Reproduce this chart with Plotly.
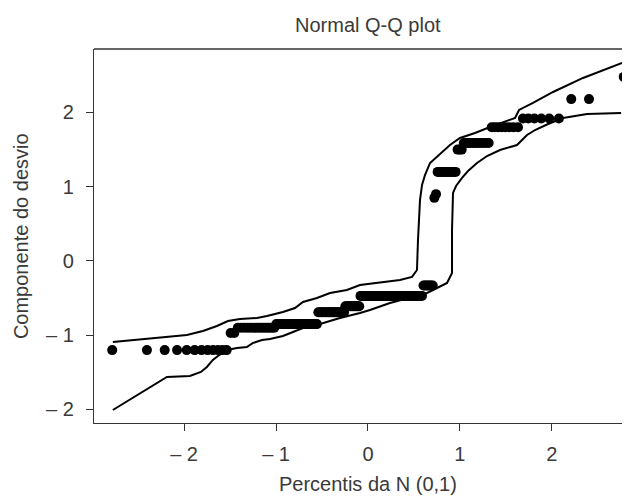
import plotly.graph_objects as go
from statistics import NormalDist

# ---- data ----
# sorted deviance-residual levels and how many observations sit at each level (n = 185)
residual_levels = [-1.20, -0.97, -0.90, -0.85, -0.69, -0.61, -0.47, -0.33,
                   0.85, 0.90, 1.20, 1.50, 1.59, 1.80, 1.92, 2.18, 2.48]
residual_counts = [12, 2, 15, 25, 20, 12, 48, 7,
                   1, 1, 11, 3, 11, 8, 6, 2, 1]

# simulated envelope (upper and lower bands)
upper_env_x = [-2.775, -1.970, -1.795, -1.643, -1.523, -1.393, -1.208, -1.099, -0.925,
               -0.794, -0.707, -0.555, -0.413, -0.229, -0.087, 0.098, 0.348, 0.479,
               0.533, 0.544, 0.566, 0.588, 0.620, 0.675, 0.751, 0.892, 1.001, 1.164,
               1.328, 1.491, 1.600, 1.643, 1.795, 2.013, 2.339, 2.764]
upper_env_y = [-1.091, -0.997, -0.943, -0.875, -0.808, -0.781, -0.768, -0.741, -0.687,
               -0.633, -0.552, -0.498, -0.431, -0.391, -0.323, -0.296, -0.256, -0.215,
               -0.121, 0.283, 0.822, 1.024, 1.158, 1.320, 1.401, 1.562, 1.657, 1.724,
               1.805, 1.872, 1.926, 2.034, 2.128, 2.276, 2.465, 2.667]
lower_env_x = [-2.775, -2.187, -1.937, -1.817, -1.752, -1.687, -1.632, -1.534, -1.425,
               -1.317, -1.251, -1.153, -1.066, -0.925, -0.816, -0.707, -0.522, -0.305,
               -0.087, 0.022, 0.239, 0.457, 0.642, 0.751, 0.860, 0.914, 0.914, 0.925,
               0.958, 1.023, 1.088, 1.186, 1.295, 1.436, 1.621, 1.730, 1.817, 1.959,
               2.122, 2.383, 2.753]
lower_env_y = [-2.007, -1.562, -1.549, -1.495, -1.428, -1.333, -1.279, -1.199, -1.172,
               -1.158, -1.104, -1.064, -1.051, -1.010, -0.956, -0.902, -0.848, -0.768,
               -0.700, -0.660, -0.566, -0.498, -0.431, -0.364, -0.296, -0.162, 0.418, 0.916,
               1.010, 1.118, 1.212, 1.320, 1.414, 1.495, 1.562, 1.697, 1.764, 1.845,
               1.926, 1.980, 1.993]

x_tick_vals = [-2, -1, 0, 1, 2]
x_tick_text = ["\u2013 2", "\u2013 1", "0", "1", "2"]
y_tick_vals = [-2, -1, 0, 1, 2]
y_tick_text = ["\u2013 2", "\u2013 1", "0", "1", "2"]

title_text = "Normal Q-Q plot"
x_title = "Percentis da N (0,1)"
y_title = "Componente do desvio"

# ---- build the Q-Q coordinates (theoretical normal quantiles, ppoints) ----
sample = []
for lvl, cnt in zip(residual_levels, residual_counts):
    sample.extend([lvl] * cnt)
sample.sort()
n = len(sample)
nd = NormalDist()
theoretical = [nd.inv_cdf((i + 0.5) / n) for i in range(n)]

FONT = "Liberation Sans, Arial, Helvetica, sans-serif"
TXT = "#3a3a3a"
AX = "#333333"

fig = go.Figure()
fig.add_trace(go.Scatter(x=upper_env_x, y=upper_env_y, mode="lines",
                         line=dict(color="black", width=2), hoverinfo="skip"))
fig.add_trace(go.Scatter(x=lower_env_x, y=lower_env_y, mode="lines",
                         line=dict(color="black", width=2), hoverinfo="skip"))
fig.add_trace(go.Scatter(x=theoretical, y=sample, mode="markers",
                         marker=dict(color="black", size=10, line=dict(width=0))))

# the page body has an 8px default margin, so the figure is sized to fit the window
fig.update_layout(
    width=622, height=491,
    margin=dict(l=86, r=0, t=41, b=76),
    paper_bgcolor="white", plot_bgcolor="white",
    showlegend=False,
    font=dict(family=FONT, size=20, color=TXT),
    xaxis=dict(range=[-2.98, 2.85], showgrid=False, zeroline=False,
               showline=True, linecolor=AX, linewidth=1.3,
               ticks="outside", ticklen=7, tickwidth=1.3, tickcolor=AX,
               tickvals=x_tick_vals, ticktext=x_tick_text,
               tickfont=dict(family=FONT, size=20, color=TXT),
               ticklabelstandoff=6),
    yaxis=dict(range=[-2.182, 2.855], showgrid=False, zeroline=False,
               showline=True, linecolor=AX, linewidth=1.3,
               ticks="outside", ticklen=7, tickwidth=1.3, tickcolor=AX,
               tickvals=y_tick_vals, ticktext=y_tick_text,
               tickfont=dict(family=FONT, size=20, color=TXT),
               ticklabelstandoff=8),
    shapes=[dict(type="line", xref="paper", yref="paper", x0=0, x1=1, y0=1, y1=1,
                 line=dict(color=AX, width=1.3))],
    annotations=[
        dict(text=title_text, xref="x", yref="paper", x=0, y=1.064,
             xanchor="center", yanchor="middle", showarrow=False,
             font=dict(family=FONT, size=20, color=TXT)),
        dict(text=x_title, xref="x", yref="paper", x=0, y=-0.163,
             xanchor="center", yanchor="middle", showarrow=False,
             font=dict(family=FONT, size=20, color=TXT)),
        dict(text=y_title, xref="paper", yref="paper", x=-0.136, y=0.5,
             xanchor="center", yanchor="middle", showarrow=False, textangle=-90,
             font=dict(family=FONT, size=20, color=TXT)),
    ],
)

fig.write_html("out.html")
